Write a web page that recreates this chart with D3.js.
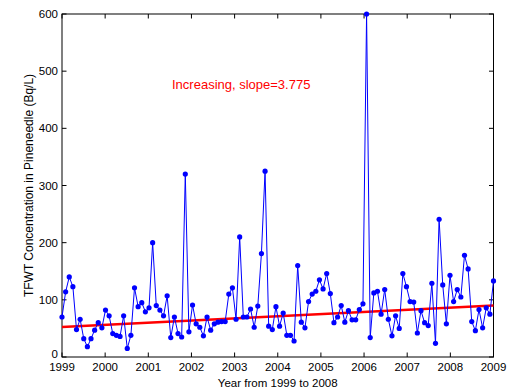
<!DOCTYPE html>
<html>
<head>
<meta charset="utf-8">
<script src="https://cdn.jsdelivr.net/npm/d3@7"></script>
<style>
  body { margin: 0; background: #fff; }
  text { font-family: Arial, "Liberation Sans", sans-serif; }
</style>
</head>
<body>
<svg id="chart" width="510" height="392"></svg>
<script>
// TFWT concentrations, one sample per step from 1999 to 2009 (Bq/L)
const tfwt = [
    70, 114, 140, 123, 48, 66, 32, 18, 32, 47, 60, 51,
    82, 72, 41, 38, 36, 72, 15, 38, 121, 88, 95, 79,
    86, 200, 90, 82, 72, 107, 34, 70, 41, 35, 320, 44,
    91, 58, 52, 37, 70, 47, 58, 61, 62, 62, 110, 121,
    66, 210, 70, 70, 84, 52, 89, 181, 325, 54, 48, 88,
    54, 77, 38, 38, 28, 160, 61, 51, 97, 110, 115, 135,
    119, 146, 111, 60, 70, 90, 61, 81, 65, 65, 83, 93,
    600, 34, 112, 115, 75, 118, 66, 37, 72, 50, 146, 123,
    97, 96, 42, 81, 60, 55, 129, 24, 241, 126, 58, 143,
    97, 118, 105, 178, 154, 62, 46, 83, 51, 86, 75, 133
];
const startYear = 1999;
const endYear = 2009;
const xTicks = [1999, 2000, 2001, 2002, 2003, 2004, 2005, 2006, 2007, 2008, 2009];
const yTicks = [0, 100, 200, 300, 400, 500, 600];

// linear trend
const trendIntercept = 52.5; // value at 1999
const trendSlope = 3.775;    // per year
const trendLabel = "Increasing, slope=3.775";

const svg = d3.select('#chart');
const plotL = 62, plotR = 493.5, plotT = 14, plotB = 357;

const x = d3.scaleLinear().domain([startYear, endYear]).range([plotL, plotR]);
const y = d3.scaleLinear().domain([0, 600]).range([plotB, plotT]);

// sample dates spread evenly over the period
const step = (endYear - startYear) / (tfwt.length - 1);
const points = tfwt.map((v, i) => ({ t: startYear + i * step, v: v }));

// axes box
svg.append('rect')
    .attr('x', plotL).attr('y', plotT)
    .attr('width', plotR - plotL).attr('height', plotB - plotT)
    .attr('fill', '#fff').attr('stroke', '#000').attr('stroke-width', 1);

const tickLen = 4.5;
const axisG = svg.append('g').attr('font-size', '11.5px');

// x ticks (bottom and top, inward)
xTicks.forEach(t => {
    const px = x(t);
    axisG.append('line').attr('x1', px).attr('x2', px)
        .attr('y1', plotB).attr('y2', plotB - tickLen).attr('stroke', '#000');
    axisG.append('line').attr('x1', px).attr('x2', px)
        .attr('y1', plotT).attr('y2', plotT + tickLen).attr('stroke', '#000');
    axisG.append('text').attr('x', px).attr('y', plotB + 14)
        .attr('text-anchor', 'middle').text(t);
});

// y ticks (left and right, inward)
yTicks.forEach(t => {
    const py = y(t);
    axisG.append('line').attr('x1', plotL).attr('x2', plotL + tickLen)
        .attr('y1', py).attr('y2', py).attr('stroke', '#000');
    axisG.append('line').attr('x1', plotR).attr('x2', plotR - tickLen)
        .attr('y1', py).attr('y2', py).attr('stroke', '#000');
    axisG.append('text').attr('x', plotL - 4).attr('y', t === 0 ? py - 3 : py)
        .attr('dy', '0.35em').attr('text-anchor', 'end').text(t);
});

// trend line
svg.append('line')
    .attr('x1', x(startYear)).attr('y1', y(trendIntercept))
    .attr('x2', x(endYear)).attr('y2', y(trendIntercept + trendSlope * (endYear - startYear)))
    .attr('stroke', '#ff0000').attr('stroke-width', 2.5);

// data line + markers
const line = d3.line().x(d => x(d.t)).y(d => y(d.v));
svg.append('path')
    .datum(points)
    .attr('d', line)
    .attr('fill', 'none')
    .attr('stroke', '#0000ff')
    .attr('stroke-width', 1);

svg.selectAll('.dot')
    .data(points)
    .enter()
    .append('circle')
    .attr('class', 'dot')
    .attr('cx', d => x(d.t))
    .attr('cy', d => y(d.v))
    .attr('r', 2.6)
    .attr('fill', '#0000ff');

// annotation
svg.append('text')
    .attr('x', 172).attr('y', 89)
    .attr('fill', '#ff0000')
    .attr('font-size', '13px')
    .text(trendLabel);

// axis labels
svg.append('text')
    .attr('x', (plotL + plotR) / 2).attr('y', 387)
    .attr('text-anchor', 'middle')
    .attr('font-size', '11.5px')
    .text('Year from 1999 to 2008');

svg.append('text')
    .attr('transform', 'translate(33,' + ((plotT + plotB) / 2) + ') rotate(-90)')
    .attr('text-anchor', 'middle')
    .attr('font-size', '12px')
    .text('TFWT Concentration in Pineneedle (Bq/L)');
</script>
</body>
</html>
